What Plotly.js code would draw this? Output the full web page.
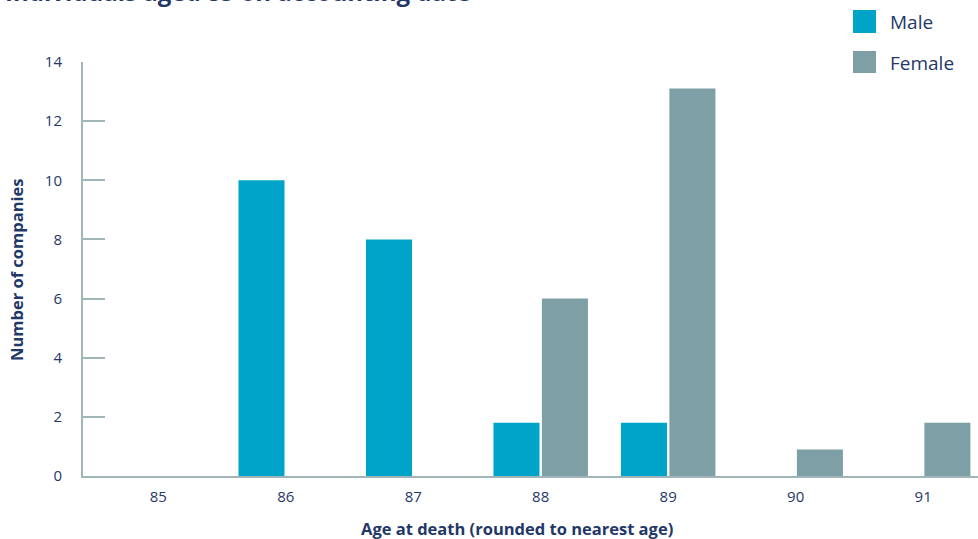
<!DOCTYPE html>
<html>
<head>
<meta charset="utf-8">
<script src="https://cdn.plot.ly/plotly-3.0.1.min.js"></script>
<style>
  html, body { margin: 0; padding: 0; background: #ffffff; }
  #chart { width: 978px; height: 539px; }
</style>
</head>
<body>
<div id="chart"></div>
<script>
// Age at death, individuals aged 85 on accounting date
const ages = [85, 86, 87, 88, 89, 90, 91];
const maleCounts = [0, 10, 8, 1.8, 1.8, 0, 0];
const femaleCounts = [0, 0, 0, 6, 13.1, 0.9, 1.8];
const seriesNames = ['Male', 'Female'];
const yTicks = [0, 2, 4, 6, 8, 10, 12, 14];

const MALE = '#00a4c9';
const FEMALE = '#7e9fa5';
const INK = '#1f3868';
const AXIS = '#9fb5b8';
const FONT = '"Open Sans", "DejaVu Sans", sans-serif';

const traces = [
  { type: 'bar', name: seriesNames[0], x: ages, y: maleCounts,
    marker: { color: MALE }, hoverinfo: 'x+y+name' },
  { type: 'bar', name: seriesNames[1], x: ages, y: femaleCounts,
    marker: { color: FEMALE }, hoverinfo: 'x+y+name' }
];

// plot area in pixels, used to place the legend swatches and labels
const L = 83, R = 978, T = 62, B = 476;
const px = v => (v - L) / (R - L);
const py = v => (B - v) / (B - T);

const legendShapes = [
  { type: 'rect', xref: 'paper', yref: 'paper', x0: px(853), x1: px(876), y0: py(33), y1: py(10),
    fillcolor: MALE, line: { width: 0 } },
  { type: 'rect', xref: 'paper', yref: 'paper', x0: px(853), x1: px(876), y0: py(73), y1: py(51),
    fillcolor: FEMALE, line: { width: 0 } }
];

const annotations = [
  { text: seriesNames[0], xref: 'paper', yref: 'paper', x: px(888), y: py(22),
    xanchor: 'left', yanchor: 'middle', showarrow: false,
    font: { family: FONT, size: 19, color: INK } },
  { text: seriesNames[1], xref: 'paper', yref: 'paper', x: px(888), y: py(63),
    xanchor: 'left', yanchor: 'middle', showarrow: false,
    font: { family: FONT, size: 19, color: INK } },
  { text: '<b>Age at death (rounded to nearest age)</b>', xref: 'paper', yref: 'paper',
    x: px(517), y: py(528), xanchor: 'center', yanchor: 'middle', showarrow: false,
    font: { family: FONT, size: 16.5, color: INK } },
  { text: '<b>Number of companies</b>', xref: 'paper', yref: 'paper',
    x: px(16), y: py(270), xanchor: 'center', yanchor: 'middle', textangle: -90, showarrow: false,
    font: { family: FONT, size: 16.5, color: INK } },
  { text: '<b>Individuals aged 85 on accounting date</b>', xref: 'paper', yref: 'paper',
    x: px(473), y: py(10), xanchor: 'right', yanchor: 'bottom', showarrow: false,
    font: { family: FONT, size: 24, color: INK } }
];

const layout = {
  width: 978, height: 539,
  margin: { l: L, r: 978 - R, t: T, b: 539 - B, pad: 0 },
  paper_bgcolor: '#ffffff', plot_bgcolor: '#ffffff',
  showlegend: false,
  barmode: 'group', bargap: 0.24, bargroupgap: 0.05,
  font: { family: FONT, size: 15, color: INK },
  xaxis: {
    type: 'linear', range: [84.41, 91.43],
    tickmode: 'array', tickvals: ages, ticktext: ages.map(String),
    showgrid: false, zeroline: false,
    showline: true, linecolor: AXIS, linewidth: 2,
    ticks: '', ticklabelstandoff: 6,
    tickfont: { family: FONT, size: 15, color: INK }
  },
  yaxis: {
    range: [0, 14], tickmode: 'array', tickvals: yTicks,
    showgrid: false, zeroline: false,
    showline: true, linecolor: AXIS, linewidth: 2,
    ticks: 'inside', ticklen: 22, tickwidth: 2, tickcolor: AXIS,
    ticklabelstandoff: 16,
    tickfont: { family: FONT, size: 15, color: INK }
  },
  shapes: legendShapes,
  annotations: annotations
};

Plotly.newPlot('chart', traces, layout, { displayModeBar: false, staticPlot: true });
</script>
</body>
</html>
